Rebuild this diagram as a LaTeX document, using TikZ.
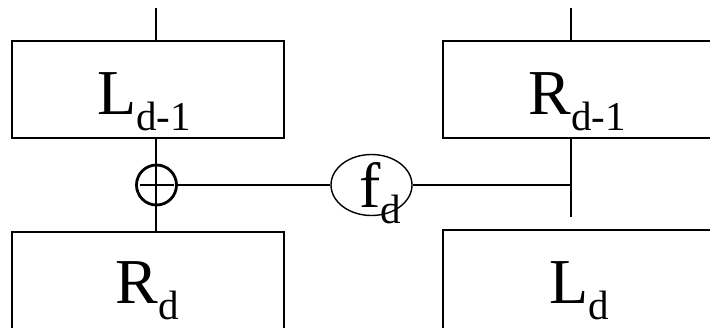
\documentclass[tikz,border=0pt]{standalone}
\usepackage{fontspec}
\setmainfont{Liberation Serif}
\usetikzlibrary{shapes.geometric}
\newcommand{\subt}[1]{\raisebox{-16pt}{\fontsize{41}{41}\selectfont #1}}
\begin{document}
\begin{tikzpicture}[x=1pt,y=-1pt,
  box/.style={draw, line width=2pt, minimum width=272pt, minimum height=97pt, inner sep=0pt},
  openbox/.style={draw, line width=2pt, minimum width=272pt, minimum height=130pt, inner sep=0pt},
  wide/.style={minimum width=320pt},
  wire/.style={line width=2pt},
  lbl/.style={anchor=base, inner sep=0pt, font=\fontsize{64}{64}\selectfont}]
\useasboundingbox (0,0) rectangle (710,327);
\clip (0,0) rectangle (710,327);
% boxes
\node[box] (Lt) at (148,89.5) {};
\node[box, wide] (Rt) at (603,89.5) {};
\node[openbox] (Rb) at (148,297) {};
\node[openbox, wide] (Lb) at (603,295) {};
% labels
\node[lbl] (tLt) at (144,114) {L\subt{d-1}};
\node[lbl] (tRt) at (577,114) {R\subt{d-1}};
\node[lbl] (tRb) at (147,303) {R\subt{d}};
\node[lbl] (tLb) at (579,303) {L\subt{d}};
% xor and function
\node[circle, draw, line width=2.8pt, minimum size=40pt, inner sep=0pt] (xor) at (156.5,185) {};
\node[ellipse, draw, line width=1.4pt, minimum width=81pt, minimum height=61pt, inner sep=0pt] (f) at (371.5,185) {};
\node[lbl] (tf) at (380,207) {f\subt{d}};
% coordinates
\coordinate (inL) at (156,8);
\coordinate (inR) at (571,8);
\coordinate (topL) at (156,41);
\coordinate (topR) at (571,41);
\coordinate (botL1) at (156,138);
\coordinate (botL2) at (156,232);
\coordinate (botR1) at (571,138);
\coordinate (botR2) at (571,217);
\coordinate (junc) at (571,185);
% wires
\draw[wire] (inL) -- (topL);
\draw[wire] (inR) -- (topR);
\draw[wire] (botL1) -- (botL2);
\draw[wire] (botR1) -- (botR2);
\draw[wire] (xor.east) -- (f.west);
\draw[wire] (f.east) -- (junc);
\draw[line width=2.8pt] ([xshift=-17pt]xor.center) -- ([xshift=17pt]xor.center);
\end{tikzpicture}
\end{document}
